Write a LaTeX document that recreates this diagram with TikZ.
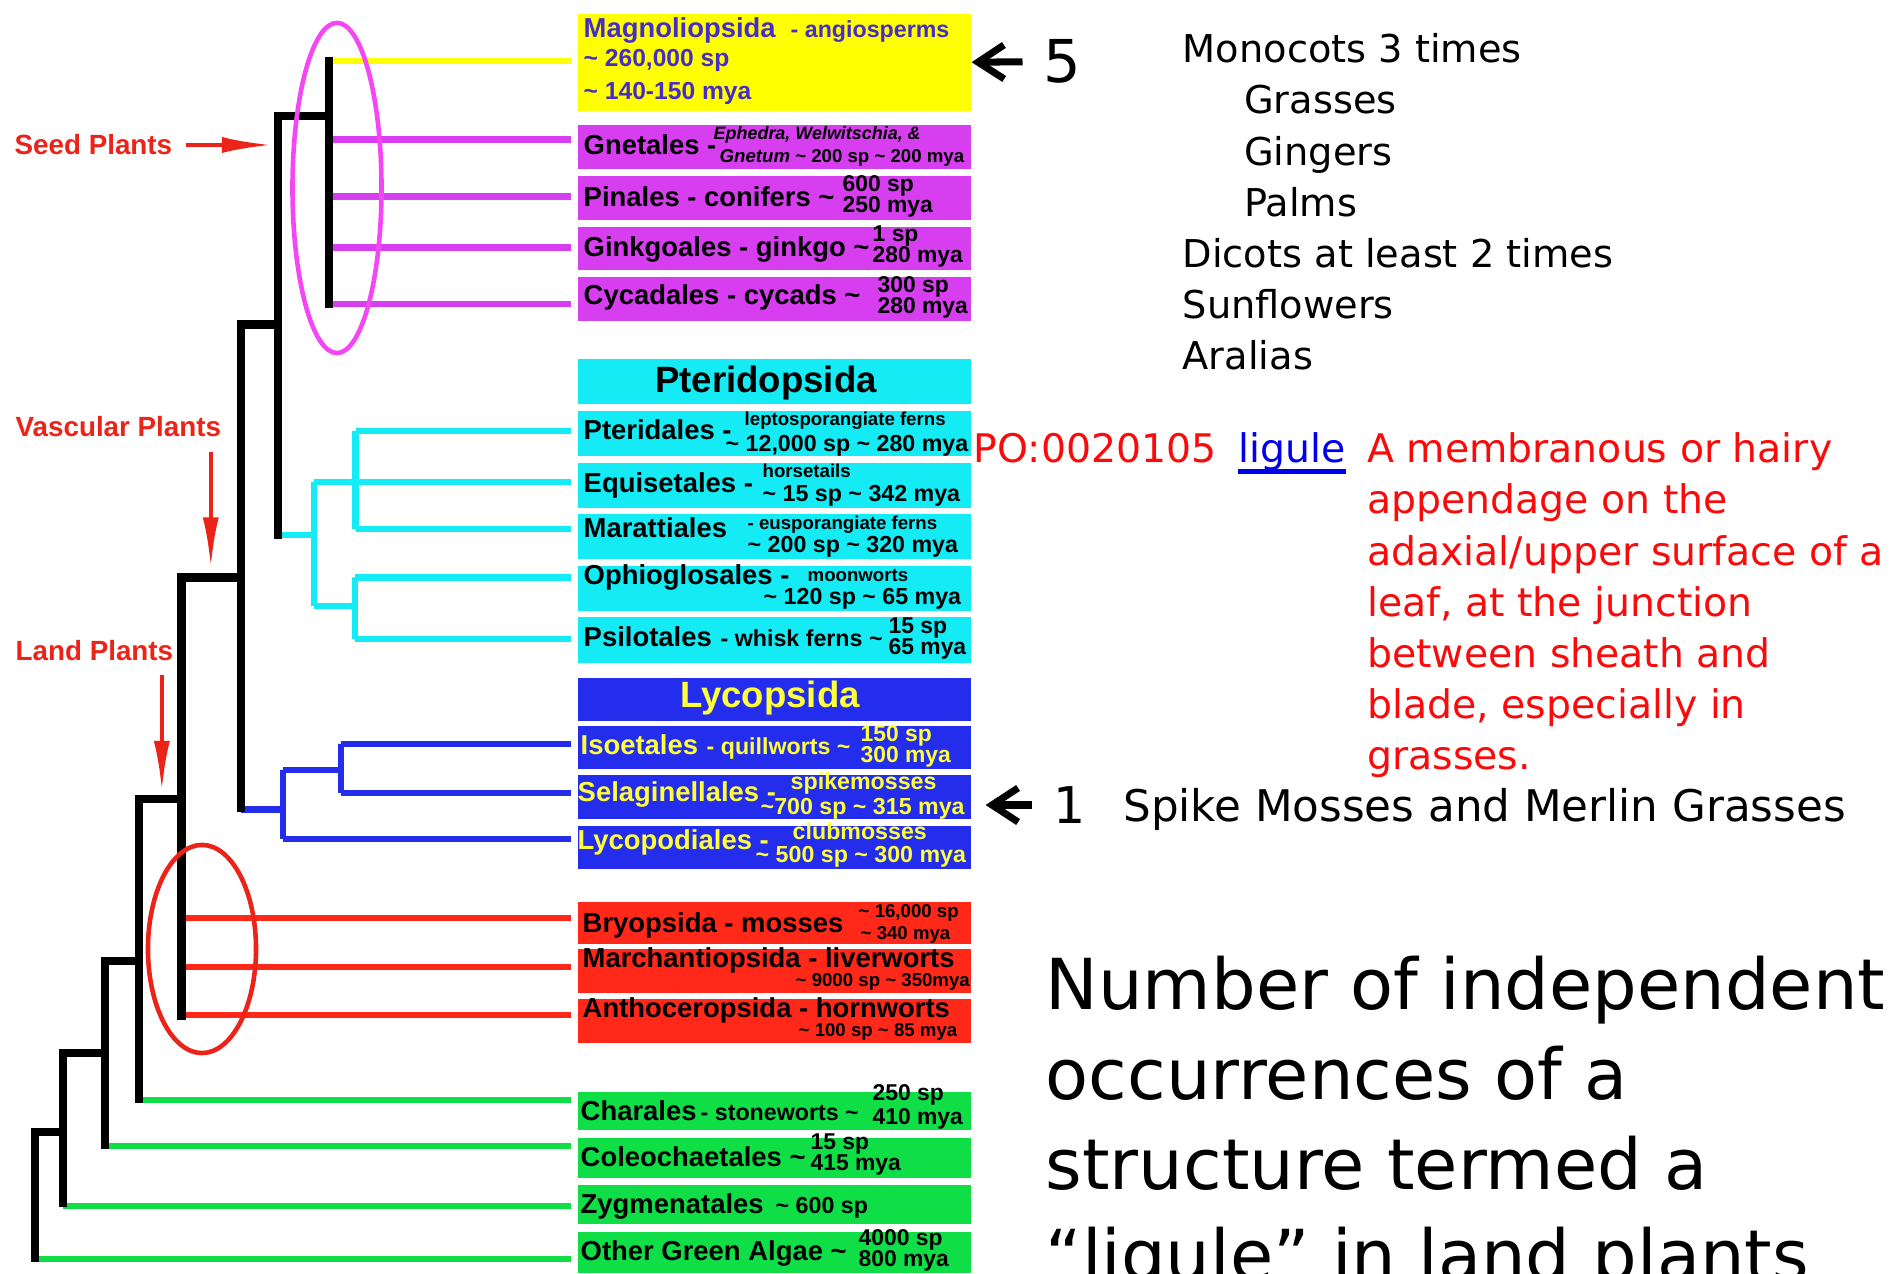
\documentclass[tikz,border=0pt]{standalone}
\usepackage{fontspec}
\setmainfont{Liberation Sans}
\newfontfamily\notefont{DejaVu Sans}
\usetikzlibrary{arrows.meta,positioning}
\definecolor{seedyel}{RGB}{255,255,0}
\definecolor{gymmag}{RGB}{214,62,240}
\definecolor{ringmag}{RGB}{245,70,245}
\definecolor{fernc}{RGB}{20,235,245}
\definecolor{lycob}{RGB}{35,45,235}
\definecolor{bryor}{RGB}{255,40,25}
\definecolor{algg}{RGB}{15,222,70}
\definecolor{labred}{RGB}{235,35,25}
\definecolor{angtxt}{RGB}{70,45,200}
\definecolor{lyctxt}{RGB}{255,255,60}
\definecolor{linkblue}{RGB}{0,0,235}
\definecolor{defred}{RGB}{250,10,10}
\newcommand{\tld}{\textasciitilde}

\begin{document}
\begin{tikzpicture}[
    x=0.01cm,y=-0.01cm,
    taxbox/.style={rectangle,anchor=north west,inner sep=0pt,
                   minimum width=3.93cm,minimum height=0.44cm},
    ybox/.style={taxbox,fill=seedyel},
    mbox/.style={taxbox,fill=gymmag},
    cbox/.style={taxbox,fill=fernc},
    bbox/.style={taxbox,fill=lycob},
    rbox/.style={taxbox,fill=bryor},
    gbox/.style={taxbox,fill=algg},
    nm/.style={anchor=base west,inner sep=0pt,font=\bfseries\fontsize{7.8pt}{9pt}\selectfont},
    sm/.style={nm,font=\bfseries\fontsize{6.6pt}{8pt}\selectfont},
    xs/.style={nm,font=\bfseries\fontsize{5.3pt}{6pt}\selectfont},
    stk/.style={nm,align=left,font=\bfseries\fontsize{6.5pt}{6pt}\selectfont},
    hdr/.style={anchor=base,inner sep=0pt,font=\bfseries\fontsize{10.4pt}{12pt}\selectfont},
    ly/.style={text=lyctxt},
    stem/.style={line width=2.4pt,black},
    twig/.style={line width=1.9pt},
    ring/.style={line width=1.3pt},
    tag/.style={anchor=west,inner sep=0pt,text=labred,font=\bfseries\fontsize{7.9pt}{9pt}\selectfont},
    tagarr/.style={-{Latex[length=0.5cm,width=0.16cm]},line width=1.2pt,labred},
    ptr/.style={-{Straight Barb[length=0.26cm,width=0.34cm]},line width=2pt,black},
    note/.style={anchor=base west,inner sep=0pt,align=left,
                 font=\notefont\fontsize{10.9pt}{14.57pt}\selectfont},
  ]
  \useasboundingbox (0,0) rectangle (1897,1274);
  \clip (0,0) rectangle (1897,1274);

  % taxon boxes
  \node[ybox,minimum height=0.97cm] (magno) at (577,13) {};
  \node[mbox] (gnet) at (577,124) {};
  \node[mbox] (pinal) at (577,175) {};
  \node[mbox,minimum height=0.43cm] (ginkg) at (577,226) {};
  \node[mbox] (cycad) at (577,276) {};
  \node[cbox,minimum height=0.45cm] (pterh) at (577,358) {};
  \node[cbox,minimum height=0.45cm] (pteri) at (577,410) {};
  \node[cbox,minimum height=0.45cm] (equis) at (577,462) {};
  \node[cbox,minimum height=0.45cm] (marat) at (577,513) {};
  \node[cbox,minimum height=0.45cm] (ophio) at (577,565) {};
  \node[cbox,minimum height=0.46cm] (psilo) at (577,616) {};
  \node[bbox,minimum height=0.43cm] (lycoh) at (577,677) {};
  \node[bbox,minimum height=0.43cm] (isoet) at (577,725) {};
  \node[bbox] (selag) at (577,774) {};
  \node[bbox,minimum height=0.43cm] (lycop) at (577,825) {};
  \node[rbox,minimum height=0.42cm] (bryop) at (577,901) {};
  \node[rbox] (march) at (577,948) {};
  \node[rbox] (antho) at (577,998) {};
  \node[gbox,minimum height=0.38cm] (chara) at (577,1091) {};
  \node[gbox,minimum height=0.40cm] (coleo) at (577,1137) {};
  \node[gbox,minimum height=0.39cm] (zygme) at (577,1184) {};
  \node[gbox,minimum height=0.41cm] (othga) at (577,1231) {};

  % box texts (a stack sits on the baseline of its last line)
  \node[nm,text=angtxt] (magno-n) at (583,38) {Magnoliopsida};
  \node[sm,text=angtxt] (magno-d) at (790,38) {- angiosperms};
  \node[sm,text=angtxt,font=\bfseries\fontsize{7pt}{8pt}\selectfont] (magno-s) at (583,67) {\tld\ 260,000 sp};
  \node[sm,text=angtxt,font=\bfseries\fontsize{7pt}{8pt}\selectfont] (magno-m) at (583,100) {\tld\ 140-150 mya};
  \node[nm] (gnet-n) at (583,155) {Gnetales -};
  \node[xs,font=\bfseries\itshape\fontsize{5.1pt}{6pt}\selectfont] (gnet-d) at (713,140) {Ephedra, Welwitschia, \&};
  \node[xs] (gnet-s) at (719,163) {\textit{Gnetum} \tld\ 200 sp \tld\ 200 mya};
  \node[nm] (pinal-n) at (583,207) {Pinales - conifers \tld};
  \node[stk] (pinal-s) at (842,213) {600 sp\\250 mya};
  \node[nm] (ginkg-n) at (583,257) {Ginkgoales - ginkgo \tld};
  \node[stk] (ginkg-s) at (872,263) {1 sp\\280 mya};
  \node[nm] (cycad-n) at (583,305) {Cycadales - cycads \tld};
  \node[stk] (cycad-s) at (877,314) {300 sp\\280 mya};

  \node[hdr] (pterh-n) at (766,393) {Pteridopsida};
  \node[nm] (pteri-n) at (583,440) {Pteridales -};
  \node[xs] (pteri-d) at (744,426) {leptosporangiate ferns};
  \node[sm] (pteri-s) at (725,452) {\tld\ 12,000 sp \tld\ 280 mya};
  \node[nm] (equis-n) at (583,493) {Equisetales -};
  \node[xs] (equis-d) at (762,478) {horsetails};
  \node[sm] (equis-s) at (762,502) {\tld\ 15 sp \tld\ 342 mya};
  \node[nm] (marat-n) at (583,538) {Marattiales};
  \node[xs] (marat-d) at (747,530) {- eusporangiate ferns};
  \node[sm] (marat-s) at (747,553) {\tld\ 200 sp \tld\ 320 mya};
  \node[nm] (ophio-n) at (583,585) {Ophioglosales -};
  \node[xs] (ophio-d) at (807,582) {moonworts};
  \node[sm] (ophio-s) at (763,605) {\tld\ 120 sp \tld\ 65 mya};
  \node[nm] (psilo-n) at (583,647) {Psilotales};
  \node[sm] (psilo-d) at (720,647) {- whisk ferns \tld};
  \node[stk] (psilo-s) at (888,655) {15 sp\\65 mya};

  \node[hdr,ly] (lycoh-n) at (770,708) {Lycopsida};
  \node[nm,ly] (isoet-n) at (580,755) {Isoetales};
  \node[sm,ly] (isoet-d) at (706,755) {- quillworts \tld};
  \node[stk,ly] (isoet-s) at (860,763) {150 sp\\300 mya};
  \node[nm,ly] (selag-n) at (577,802) {Selaginellales -};
  \node[sm,ly] (selag-d) at (790,790) {spikemosses};
  \node[sm,ly] (selag-s) at (760,815) {\tld 700 sp \tld\ 315 mya};
  \node[nm,ly] (lycop-n) at (577,850) {Lycopodiales -};
  \node[sm,ly] (lycop-d) at (792,840) {clubmosses};
  \node[sm,ly] (lycop-s) at (755,863) {\tld\ 500 sp \tld\ 300 mya};

  \node[nm] (bryop-n) at (582,933) {Bryopsida - mosses};
  \node[xs] (bryop-s) at (858,918) {\tld\ 16,000 sp};
  \node[xs] (bryop-m) at (860,940) {\tld\ 340 mya};
  \node[nm] (march-n) at (582,968) {Marchantiopsida - liverworts};
  \node[xs] (march-s) at (795,987) {\tld\ 9000 sp \tld\ 350mya};
  \node[nm] (antho-n) at (582,1018) {Anthoceropsida - hornworts};
  \node[xs] (antho-s) at (798,1037) {\tld\ 100 sp \tld\ 85 mya};

  \node[nm] (chara-n) at (580,1120) {Charales};
  \node[sm] (chara-d) at (700,1120) {- stoneworts \tld};
  \node[stk,font=\bfseries\fontsize{6.5pt}{5pt}\selectfont] (chara-s) at (872,1125) {250 sp\\410 mya};
  \node[nm] (coleo-n) at (580,1167) {Coleochaetales \tld};
  \node[stk] (coleo-s) at (810,1171) {15 sp\\415 mya};
  \node[nm] (zygme-n) at (580,1213) {Zygmenatales};
  \node[sm] (zygme-d) at (775,1213) {\tld\ 600 sp};
  \node[nm] (othga-n) at (580,1260) {Other Green Algae \tld};
  \node[stk] (othga-s) at (858,1267) {4000 sp\\800 mya};

  % tree junctions
  \coordinate (angio) at (329,57);
  \coordinate (cycl) at (329,308);
  \coordinate (sdj) at (329,116);
  \coordinate (sperm) at (278,116);
  \coordinate (spb) at (278,539);
  \coordinate (spj) at (278,324.5);
  \coordinate (eub) at (241,812);
  \coordinate (fernj) at (278,535);
  \coordinate (vasc) at (241,577.5);
  \coordinate (vab) at (181.5,1020);
  \coordinate (lycj) at (241,809.6);
  \coordinate (landj) at (181.5,799);
  \coordinate (lab) at (139,1103);
  \coordinate (charj) at (139,961);
  \coordinate (chb) at (105,1149);
  \coordinate (colj) at (105,1053);
  \coordinate (cob) at (63,1207.5);
  \coordinate (zygj) at (63,1132);
  \coordinate (zyb) at (35,1262);
  \coordinate (fnt) at (314,482);
  \coordinate (fnb) at (314,606);
  \coordinate (lepa) at (355.5,431);
  \coordinate (lepb) at (355.5,529);
  \coordinate (ophj) at (355,577.5);
  \coordinate (psij) at (355,639);
  \coordinate (lya) at (283,770);
  \coordinate (lyb) at (283,839);
  \coordinate (isj) at (341,744);
  \coordinate (sej) at (341,793);

  % leaf ends
  \coordinate (l-magno) at (571,61);
  \coordinate (l-gnet) at (571,139.6);
  \coordinate (l-pinal) at (571,196.7);
  \coordinate (l-ginkg) at (571,247.8);
  \coordinate (l-cycad) at (571,304);
  \coordinate (l-pteri) at (571,431);
  \coordinate (l-equis) at (571,482);
  \coordinate (l-marat) at (571,529);
  \coordinate (l-ophio) at (571,577.5);
  \coordinate (l-psilo) at (571,639);
  \coordinate (l-isoet) at (571,744);
  \coordinate (l-selag) at (571,793);
  \coordinate (l-lycop) at (571,839);
  \coordinate (l-bryop) at (571,918);
  \coordinate (l-march) at (571,967);
  \coordinate (l-antho) at (571,1015);
  \coordinate (l-chara) at (571,1100);
  \coordinate (l-coleo) at (571,1146);
  \coordinate (l-zygme) at (571,1206);
  \coordinate (l-othga) at (571,1259);

  % leaves
  \draw[twig,seedyel] (angio |- l-magno) -- (l-magno);
  \draw[twig,gymmag] (angio |- l-gnet) -- (l-gnet);
  \draw[twig,gymmag] (angio |- l-pinal) -- (l-pinal);
  \draw[twig,gymmag] (angio |- l-ginkg) -- (l-ginkg);
  \draw[twig,gymmag] (angio |- l-cycad) -- (l-cycad);
  \draw[twig,fernc] (fernj) -| (fnt) -- (fnb);
  \draw[twig,fernc] (fnt) -| (lepa) -- (lepb);
  \draw[twig,fernc] (fnb) -| (ophj) -- (psij);
  \draw[twig,fernc] (lepa) -- (l-pteri);
  \draw[twig,fernc] (lepa |- l-equis) -- (l-equis);
  \draw[twig,fernc] (lepb) -- (l-marat);
  \draw[twig,fernc] (ophj) -- (l-ophio);
  \draw[twig,fernc] (psij) -- (l-psilo);
  \draw[twig,lycob] (lycj) -| (lya) -- (lyb);
  \draw[twig,lycob] (lya) -| (isj) -- (sej);
  \draw[twig,lycob] (isj) -- (l-isoet);
  \draw[twig,lycob] (sej) -- (l-selag);
  \draw[twig,lycob] (lyb) -- (l-lycop);
  \draw[twig,bryor] (vab |- l-bryop) -- (l-bryop);
  \draw[twig,bryor] (vab |- l-march) -- (l-march);
  \draw[twig,bryor] (vab |- l-antho) -- (l-antho);
  \draw[twig,algg] (lab |- l-chara) -- (l-chara);
  \draw[twig,algg] (chb |- l-coleo) -- (l-coleo);
  \draw[twig,algg] (cob |- l-zygme) -- (l-zygme);
  \draw[twig,algg] (zyb |- l-othga) -- (l-othga);

  % backbone
  \draw[stem] (angio) -- (cycl);
  \draw[stem] (sdj) -| (spb);
  \draw[stem] (spj) -| (eub);
  \draw[stem] (vasc) -| (vab);
  \draw[stem] (landj) -| (lab);
  \draw[stem] (charj) -| (chb);
  \draw[stem] (colj) -| (cob);
  \draw[stem] (zygj) -| (zyb);

  % rings
  \draw[ring,ringmag] (337,188) ellipse [x radius=0.445cm,y radius=1.65cm];
  \draw[ring,labred] (202,949) ellipse [x radius=0.54cm,y radius=1.04cm];

  % clade tags
  \node[tag] (seedlab) at (14,145) {Seed Plants};
  \draw[tagarr,shorten <=0.13cm,shorten >=0.06cm] (seedlab.east) -- (sperm |- seedlab.east);
  \node[tag] (vaslab) at (15,427) {Vascular Plants};
  \coordinate (vasarr) at ([xshift=-0.11cm]vaslab.south east);
  \draw[tagarr,shorten >=0.1cm] ([yshift=-0.14cm]vasarr) -- (vasarr |- vasc);
  \node[tag] (landlab) at (15,651) {Land Plants};
  \coordinate (landarr) at ([xshift=-0.12cm]landlab.south east);
  \draw[tagarr,shorten >=0.08cm] ([yshift=-0.13cm]landarr) -- (landarr |- landj);

  % notes on the right (multi-line notes sit on their last baseline)
  \node[inner sep=0pt,font=\notefont\fontsize{16.8pt}{20pt}\selectfont] (five) at (1062,61.5) {5};
  \draw[ptr,shorten <=0.2cm] (five) -- (magno.east);
  \node[note] (mono) at (1182,370) {Monocots 3 times\\\hspace*{17.5pt}Grasses\\\hspace*{17.5pt}Gingers\\\hspace*{17.5pt}Palms\\Dicots at least 2 times\\Sunflowers\\Aralias};

  \node[note,text=defred,font=\notefont\fontsize{11.2pt}{14.57pt}\selectfont] (poid) at (973,463) {PO:0020105};
  \node[note,text=linkblue,font=\notefont\fontsize{11.2pt}{14.57pt}\selectfont] (ligule) at (1238,463) {ligule};
  \draw[linkblue,line width=1.3pt] ([yshift=-2.4pt]ligule.base west) -- ([yshift=-2.4pt]ligule.base east);
  \node[note,text=defred,font=\notefont\fontsize{11.2pt}{14.57pt}\selectfont] (defn) at (1366.5,770)
    {A membranous or hairy\\appendage on the\\adaxial/upper surface of a\\leaf, at the junction\\between sheath and\\blade, especially in\\grasses.};

  \node[inner sep=0pt,font=\notefont\fontsize{14.4pt}{18pt}\selectfont] (one) at (1069.5,805) {1};
  \draw[ptr,shorten <=0.21cm,shorten >=0.14cm] (one) -- (selag.east |- one);
  \node[note,font=\notefont\fontsize{12.4pt}{15pt}\selectfont] (spike) at (1122.6,822) {Spike Mosses and Merlin Grasses};

  \node[note,font=\notefont\fontsize{20pt}{25.6pt}\selectfont] (query) at (1045,1280)
    {Number of independent\\occurrences of a\\structure termed a\\“ligule” in land plants};
\end{tikzpicture}
\end{document}
